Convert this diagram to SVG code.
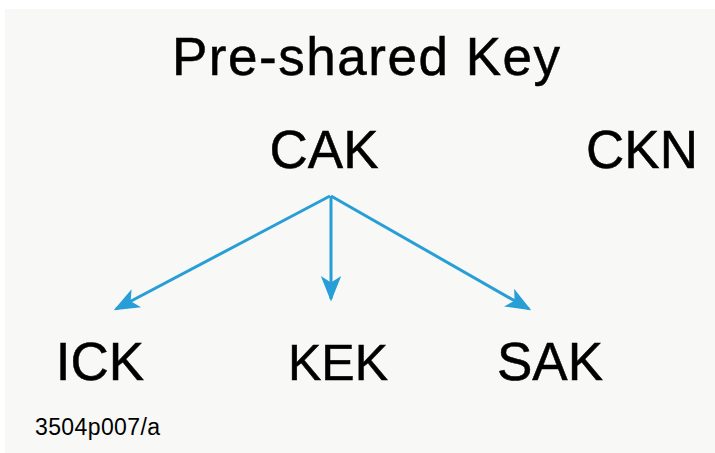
<svg xmlns="http://www.w3.org/2000/svg" width="715" height="453" viewBox="0 0 715 453">
<style>
.t{font-family:"Liberation Sans",Arial,sans-serif;fill:#000}
.big{font-size:53px;stroke:#000;stroke-width:0.5}
.c{stroke:#279fd6;stroke-width:3;fill:none}
</style>
<defs>
<marker id="ah" viewBox="0 0 20 20" refX="18" refY="10" markerWidth="8.5" markerHeight="8.5" markerUnits="strokeWidth" orient="auto">
<path d="M0,2 L20,10 L0,18 L5,10 Z" fill="#279fd6"/>
</marker>
</defs>
<rect x="5" y="9" width="710" height="444" fill="#f8f8f6"/>
<g id="title"><text class="t big" x="366" y="75" text-anchor="middle" textLength="388">Pre-shared Key</text></g>
<g id="cak"><text class="t big" x="324" y="168" text-anchor="middle">CAK</text></g>
<g id="ckn"><text class="t big" x="642" y="168" text-anchor="middle">CKN</text></g>
<g id="ick"><text class="t big" x="100" y="380" text-anchor="middle">ICK</text></g>
<g id="kek"><text class="t big" x="338" y="380" text-anchor="middle" style="font-size:50px">KEK</text></g>
<g id="sak"><text class="t big" x="550" y="380" text-anchor="middle">SAK</text></g>
<g id="connectors">
<line class="c" x1="330" y1="196" x2="116" y2="309" marker-end="url(#ah)"/>
<line class="c" x1="331" y1="196" x2="331" y2="299" marker-end="url(#ah)"/>
<line class="c" x1="331" y1="196" x2="529" y2="309" marker-end="url(#ah)"/>
</g>
<g id="label"><text class="t" x="35" y="435" font-size="23" fill="#222" textLength="125">3504p007/a</text></g>
</svg>
